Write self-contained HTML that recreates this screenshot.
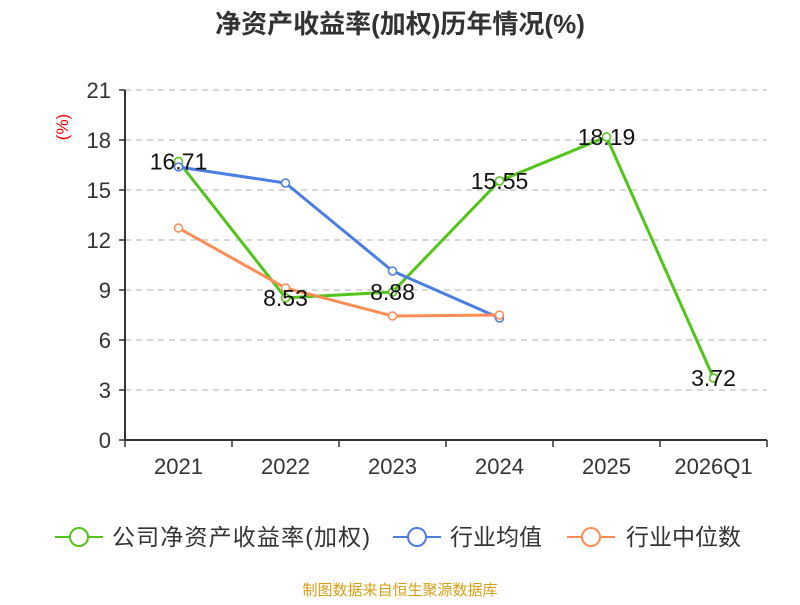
<!DOCTYPE html>
<html><head><meta charset="utf-8"><style>
body{margin:0;background:#fff;font-family:"Liberation Sans","Noto Sans CJK SC",sans-serif}
</style></head><body>
<svg width="800" height="600" id="c" xmlns="http://www.w3.org/2000/svg">
<text x="400" y="33" text-anchor="middle" font-size="26" font-weight="bold" fill="#333" font-family="Liberation Sans,Noto Sans CJK SC,sans-serif">净资产收益率(加权)历年情况(%)</text>
<text transform="translate(68,127) rotate(-90)" text-anchor="middle" font-size="17" fill="#e00">(%)</text>
<g id="grid"></g><g id="axes"></g><g id="series"></g>
<g font-size="23" fill="#333" font-family="Liberation Sans,Noto Sans CJK SC,sans-serif">
<g><line x1="55" y1="537" x2="103" y2="537" stroke="#52c41a" stroke-width="2"/><circle cx="79" cy="537" r="9" fill="#fff" stroke="#52c41a" stroke-width="2"/><text x="112" y="545" textLength="258">公司净资产收益率(加权)</text></g>
<g><line x1="393" y1="537" x2="441" y2="537" stroke="#4a7ee0" stroke-width="2"/><circle cx="417" cy="537" r="9" fill="#fff" stroke="#4a7ee0" stroke-width="2"/><text x="450" y="545">行业均值</text></g>
<g><line x1="567" y1="537" x2="615" y2="537" stroke="#ff8c55" stroke-width="2"/><circle cx="591" cy="537" r="9" fill="#fff" stroke="#ff8c55" stroke-width="2"/><text x="626" y="545">行业中位数</text></g>
</g>
<text x="400" y="595" text-anchor="middle" font-size="15" fill="#d4a017">制图数据来自恒生聚源数据库</text>
</svg>
<script>
const categories=["2021","2022","2023","2024","2025","2026Q1"];
const companyValues=[16.71,8.53,8.88,15.55,18.19,3.72];
const avgValues=[16.38,15.42,10.14,7.32];
const medianValues=[12.72,9.12,7.44,7.5];
const yTicks=[0,3,6,9,12,15,18,21];
const NS="http://www.w3.org/2000/svg";
const x0=125,x1=767,yb=440,yt=90,ymax=21;
const bw=(x1-x0)/categories.length;
const X=i=>x0+bw*(i+0.5);
const Y=v=>yb-(v/ymax)*(yb-yt);
function mk(t,a,p){const e=document.createElementNS(NS,t);for(const k in a)e.setAttribute(k,a[k]);p.appendChild(e);return e;}
const grid=document.getElementById('grid'),axes=document.getElementById('axes'),ser=document.getElementById('series');
yTicks.forEach(t=>{
 if(t>0){const g=mk('line',{x1:x0,x2:x1,y1:Y(t),y2:Y(t),stroke:'#ccc','stroke-dasharray':'6,5','stroke-width':1.5},grid);
 
 }
 const tk=mk('line',{x1:x0-6,x2:x0,y1:Y(t),y2:Y(t),stroke:'#333','stroke-width':1.5},axes);
 
 
 const tx=mk('text',{x:x0-14,y:Y(t)+8,'text-anchor':'end','font-size':22,fill:'#333'},axes);tx.textContent=t;
 
 
});
const ya=mk('line',{x1:x0,x2:x0,y1:yt,y2:yb,stroke:'#333','stroke-width':2},axes);


const xa=mk('line',{x1:x0,x2:x1,y1:yb,y2:yb,stroke:'#333','stroke-width':2},axes);


for(let i=0;i<=categories.length;i++){const l=mk('line',{x1:x0+bw*i,x2:x0+bw*i,y1:yb,y2:yb+7,stroke:'#333','stroke-width':1.5},axes);
 
 }
categories.forEach((c,i)=>{const t=mk('text',{x:X(i),y:yb+34,'text-anchor':'middle','font-size':22,fill:'#333'},axes);t.textContent=c;
 
 });
function series(vals,color,name){
 const p=mk('polyline',{points:vals.map((v,i)=>X(i)+','+Y(v)).join(' '),fill:'none',stroke:color,'stroke-width':3},ser);
 
 
 vals.forEach((v,i)=>{const c=mk('circle',{cx:X(i),cy:Y(v),r:4,fill:'#fff',stroke:color,'stroke-width':1.5},ser);
  
  
 });
}
series(companyValues,'#52c41a','company-roe');
series(avgValues,'#4a7ee0','industry-avg');
series(medianValues,'#ff8c55','industry-median');
companyValues.forEach((v,i)=>{const t=mk('text',{x:X(i),y:Y(v)+8,'text-anchor':'middle','font-size':23,fill:'#111'},ser);t.textContent=v.toFixed(2);
 
 });
</script>
</body></html>
